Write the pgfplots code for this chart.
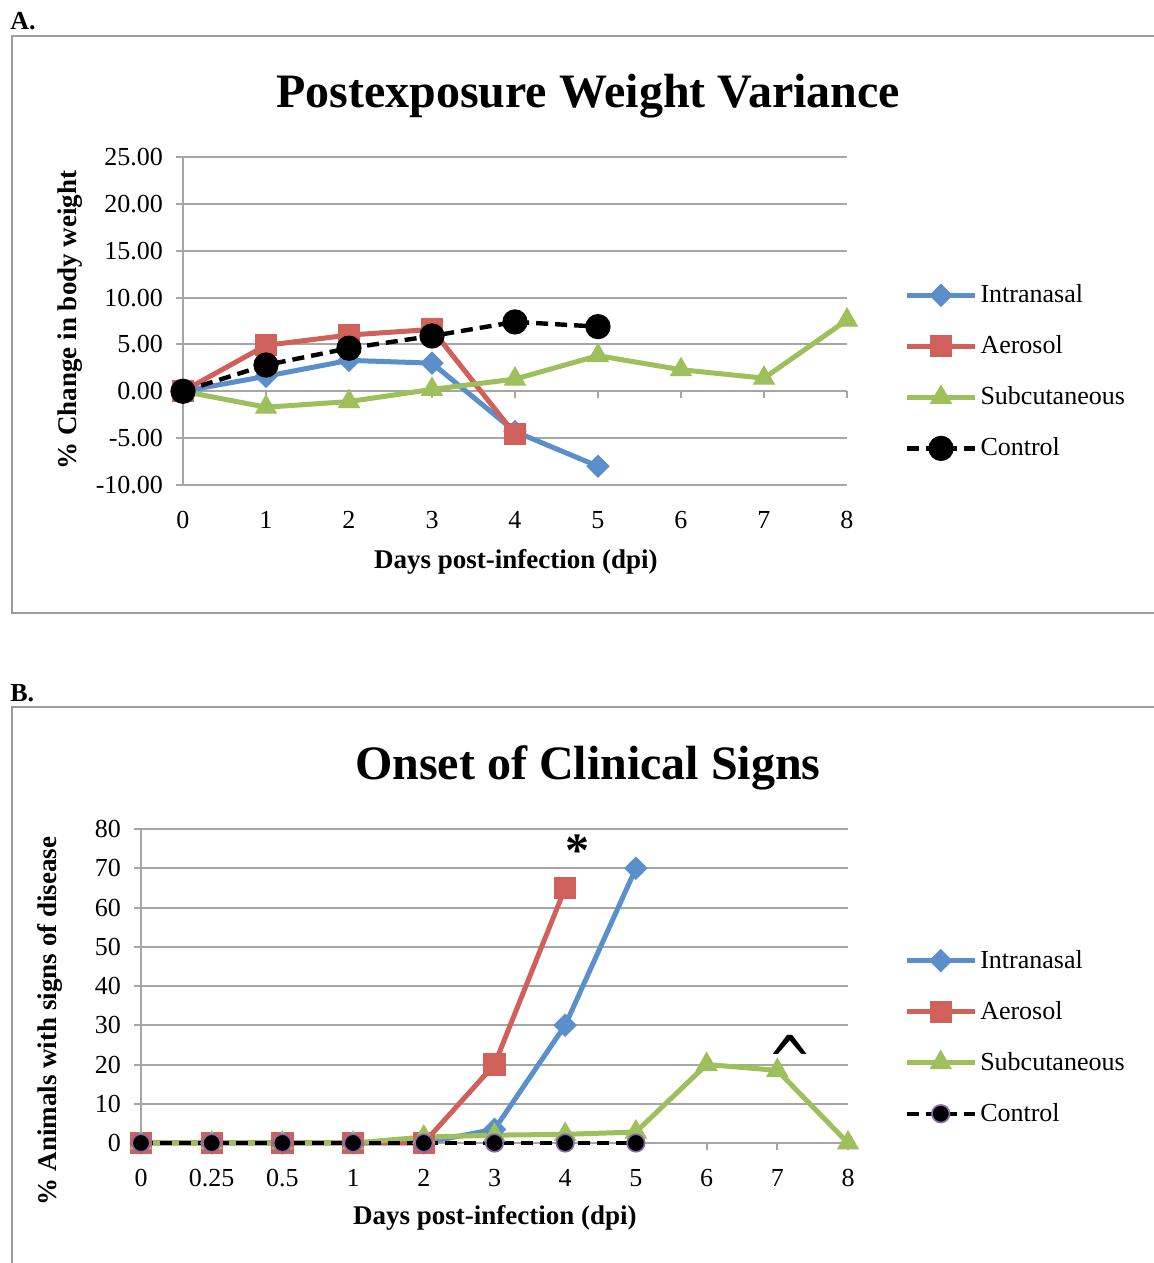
\documentclass[border=0pt]{standalone}
\usepackage{pgfplots}
\pgfplotsset{compat=1.18}
\usepackage{fontspec}
\setmainfont{Liberation Serif}
\newfontfamily\symfont{DejaVu Sans}

\definecolor{cBlue}{HTML}{5B8FCB}
\definecolor{cRed}{HTML}{D0605A}
\definecolor{cGreen}{HTML}{9DC05C}
\definecolor{cGrid}{HTML}{A6A6A6}
\definecolor{cFrame}{HTML}{9C9C9C}
\definecolor{cPurple}{HTML}{8A6AB0}

\pgfplotsset{
  excel/.style={
    scale only axis,
    /pgf/number format/assume math mode=true,
    axis x line*=bottom,
    axis y line*=left,
    separate axis lines,
    x axis line style={draw=none},
    y axis line style={draw=cGrid, line width=1pt},
    xtick style={draw=none},
    ytick style={draw=cGrid, line width=1pt},
    tick align=outside,
    major tick length=3.5pt,
    ymajorgrids,
    grid style={draw=cGrid, line width=1pt},
    tick label style={font=\fontsize{13}{15}\selectfont},
    label style={font=\bfseries\fontsize{13.5}{16}\selectfont},
    title style={font=\bfseries\fontsize{24}{28}\selectfont, anchor=base},
    clip=false,
    legend cell align=left,
    legend style={draw=none, fill=none, inner sep=0pt,
      font=\fontsize{13}{15}\selectfont,
      row sep=12pt,
      nodes={inner sep=1.5pt}},
    legend image code/.code={
      \draw[mark repeat=2, mark phase=2]
        plot coordinates {(0pt,0pt) (17pt,0pt) (34pt,0pt)};},
  },
  intra/.style={color=cBlue, line width=2.5pt, mark=square*,
    mark size=3.9pt, mark options={solid, rotate=45, fill=cBlue, draw=cBlue, line width=0.5pt}},
  aero/.style={color=cRed, line width=2.5pt, mark=square*,
    mark size=5.3pt, mark options={solid, fill=cRed, draw=cRed, line width=0.5pt}},
  subc/.style={color=cGreen, line width=2.5pt, mark=triangle*,
    mark size=6pt, mark options={solid, fill=cGreen, draw=cGreen, line width=0.5pt}},
}

\begin{document}
\begin{tikzpicture}
\useasboundingbox (0,0) rectangle (576.5pt,631.5pt);
\fill[white] (0,0) rectangle (576.5pt,631.5pt);

% panel frames and letters
\draw[cFrame, line width=1pt] (580pt,613.5pt) -- (6pt,613.5pt) -- (6pt,325pt) -- (580pt,325pt);
\draw[cFrame, line width=1pt] (580pt,278pt) -- (6pt,278pt) -- (6pt,-5pt);
\node[anchor=base west, inner sep=0pt, font=\bfseries\fontsize{13}{15}\selectfont] at (5pt,616.5pt) {A.};
\node[anchor=base west, inner sep=0pt, font=\bfseries\fontsize{13}{15}\selectfont] at (5pt,280.5pt) {B.};

% ---------- A: body weight ----------
\begin{axis}[excel,
  at={(91.5pt,389pt)}, anchor=south west,
  width=332pt, height=164pt,
  xmin=0, xmax=8, ymin=-10, ymax=25,
  xtick={0,...,8},
  ytick={-10,-5,0,5,10,15,20,25},
  xticklabel style={yshift=-6pt},
  yticklabel style={xshift=-3pt, /pgf/number format/.cd, fixed, fixed zerofill, precision=2},
  title={Postexposure Weight Variance},
  title style={at={(axis description cs:0.61,1.113)}},
  xlabel={Days post-infection (dpi)},
  xlabel style={at={(axis description cs:0.5015,-0.235)}, anchor=center},
  ylabel={\% Change in body weight},
  ylabel style={at={(axis description cs:-0.170,0.503)}, anchor=center},
  legend style={at={(axis description cs:1.086,0.345)}, anchor=west},
]
% horizontal axis crossing at zero
\draw[cGrid, line width=1pt] (axis cs:0,0) -- (axis cs:8,0);
\pgfplotsinvokeforeach{0,...,8}{\draw[cGrid, line width=1pt] (axis cs:#1,0) -- ++(0pt,-3.5pt);}

\addplot[intra] coordinates {(0,0) (1,1.6) (2,3.3) (3,3.0) (4,-4.3) (5,-8.0)};
\addlegendentry{Intranasal}
\addplot[aero] coordinates {(0,0) (1,4.9) (2,6.0) (3,6.6) (4,-4.6)};
\addlegendentry{Aerosol}
\addplot[subc] coordinates {(0,0) (1,-1.7) (2,-1.1) (3,0.2) (4,1.3) (5,3.8) (6,2.3) (7,1.4) (8,7.6)};
\addlegendentry{Subcutaneous}
\addplot[black, line width=2.2pt, dash pattern=on 6pt off 3.5pt, mark=*, mark size=5.2pt,
  mark options={solid, fill=black, draw=black}]
  coordinates {(0,0) (1,2.8) (2,4.6) (3,5.9) (4,7.4) (5,6.9)};
\addlegendentry{Control}
\end{axis}

% ---------- B: clinical signs ----------
\begin{axis}[excel,
  at={(70.5pt,60pt)}, anchor=south west,
  width=353.5pt, height=157pt,
  xmin=0, xmax=10, ymin=0, ymax=80,
  xtick={0,...,10},
  xticklabels={0,0.25,0.5,1,2,3,4,5,6,7,8},
  ytick={0,10,...,80},
  xticklabel style={yshift=-6pt},
  yticklabel style={xshift=-3pt},
  title={Onset of Clinical Signs},
  title style={at={(axis description cs:0.632,1.118)}},
  xlabel={Days post-infection (dpi)},
  xlabel style={at={(axis description cs:0.5007,-0.239)}, anchor=center},
  ylabel={\% Animals with signs of disease},
  ylabel style={at={(axis description cs:-0.129,0.389)}, anchor=center},
  legend style={at={(axis description cs:1.079,0.337)}, anchor=west},
]
\draw[cGrid, line width=1pt] (axis cs:0,0) -- (axis cs:10,0);
\pgfplotsinvokeforeach{0,...,10}{\draw[cGrid, line width=1pt] (axis cs:#1,0) -- ++(0pt,-3.5pt);}

\addplot[intra] coordinates {(0,0) (1,0) (2,0) (3,0) (4,0) (5,3.5) (6,30) (7,70)};
\addlegendentry{Intranasal}
\addplot[aero] coordinates {(0,0) (1,0) (2,0) (3,0) (4,0) (5,20) (6,65)};
\addlegendentry{Aerosol}
\addplot[subc] coordinates {(0,0) (1,0) (2,0) (3,0) (4,1.5) (5,2.0) (6,2.2) (7,2.8) (8,20) (9,18.5) (10,0)};
\addlegendentry{Subcutaneous}
\addplot[black, line width=2.2pt, dash pattern=on 6pt off 3.5pt, mark=*, mark size=4.4pt,
  mark options={solid, fill=black, draw=cPurple, line width=0.8pt}]
  coordinates {(0,0) (1,0) (2,0) (3,0) (4,0) (5,0) (6,0) (7,0)};
\addlegendentry{Control}

\node[font=\bfseries\fontsize{24}{24}\selectfont] at (axis cs:6.18,74.5) {*};
\node[font=\symfont\fontsize{27}{27}\selectfont] at (axis cs:9.18,20.8) {\scalebox{1}[1.3]{\textasciicircum}};
\end{axis}
\end{tikzpicture}
\end{document}
